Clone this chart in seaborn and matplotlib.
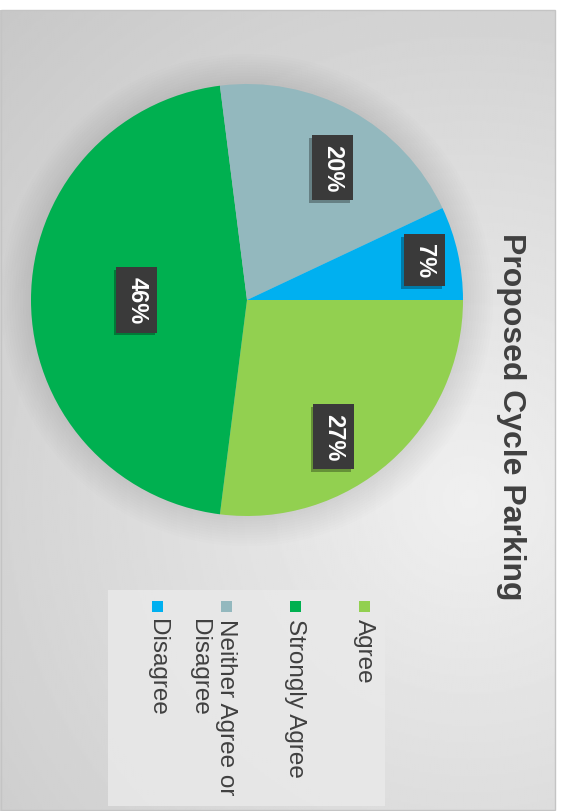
import numpy as np
import matplotlib.pyplot as plt
import matplotlib.patheffects as pe
import seaborn as sns
from matplotlib.patches import Rectangle, Circle

sns.set_theme(style='white')
plt.rcParams['font.family'] = ['Liberation Sans', 'DejaVu Sans']

# Chart data (the chart is shown rotated a quarter turn clockwise)
title = 'Proposed Cycle Parking'
categories = ['Agree', 'Strongly Agree', 'Neither Agree or\nDisagree', 'Disagree']
shares = [27, 46, 20, 7]
colors = ['#92D050', '#00B050', '#93B8BE', '#00B0F0']

# label placement inside each slice (fraction of radius, angle nudge in degrees)
label_r = [0.75, 0.51, 0.73, 0.84]
label_nudge = [-9, 0, -4, 0]

W, H = 562, 812
fig = plt.figure(figsize=(W / 100, H / 100), dpi=100, facecolor='white')

# grey gradient background of the chart area
bg = fig.add_axes([0, 0, 555 / W, 801 / H])
xx, yy = np.meshgrid(np.linspace(0, 555, 300), np.linspace(11, 812, 400))
dist = np.hypot(xx - 470, yy - 500) / 600
shade = 0.94 - 0.14 * dist
bg.imshow(shade, cmap='gray', vmin=0, vmax=1, extent=[0, 555, 812, 11], aspect='auto')
bg.set_xlim(0, 555)
bg.set_ylim(812, 11)
bg.axis('off')

# pie
cx, cy, R = 247, 301, 216
ax = fig.add_axes([(cx - R) / W, (H - cy - R) / H, 2 * R / W, 2 * R / H])
for r in np.linspace(1.14, 1.0, 12):
    ax.add_patch(Circle((0, 0), r, color='black', alpha=0.009, lw=0, clip_on=False))
wedges, _ = ax.pie(shares, colors=colors, startangle=0, counterclock=False,
                   radius=1, wedgeprops=dict(linewidth=0))
ax.set_xlim(-1, 1)
ax.set_ylim(-1, 1)
ax.axis('off')

for w, share, rr, nud in zip(wedges, shares, label_r, label_nudge):
    theta = np.deg2rad((w.theta1 + w.theta2) / 2 + nud)
    t = ax.text(rr * np.cos(theta), rr * np.sin(theta), f'{share}%', rotation=-90,
                ha='center', va='center', color='white', fontsize=17, fontweight='bold',
                bbox=dict(boxstyle='square,pad=0.38', fc='#3a3a3a', ec='none'))
    t.get_bbox_patch().set_path_effects(
        [pe.SimplePatchShadow(offset=(-2, -2), shadow_rgbFace='black', alpha=0.3), pe.Normal()])

# overlay in pixel coordinates for title and legend
ov = fig.add_axes([0, 0, 1, 1])
ov.set_xlim(0, W)
ov.set_ylim(H, 0)
ov.axis('off')

ov.add_patch(Rectangle((0.5, 11), 554.5, 800, fill=False, ec='#c4c4c4', lw=1))

ov.text(511, 417, title, rotation=-90, ha='center', va='center',
        fontsize=23, fontweight='bold', color='#404040')

ov.add_patch(Rectangle((108, 591), 277, 216, fc='#e9e9e9', ec='none', alpha=0.85))
for i, (lab, col) in enumerate(zip(categories, colors)):
    x = 364 - 69 * i
    ov.add_patch(Rectangle((x - 5.5, 602), 11, 11, fc=col, ec='none'))
    ov.text(x + 11, 619, lab, rotation=-90, ha='right', va='top',
            fontsize=17.5, color='#404040', linespacing=1.3, multialignment='left')

fig.savefig('out.png', dpi=100)
